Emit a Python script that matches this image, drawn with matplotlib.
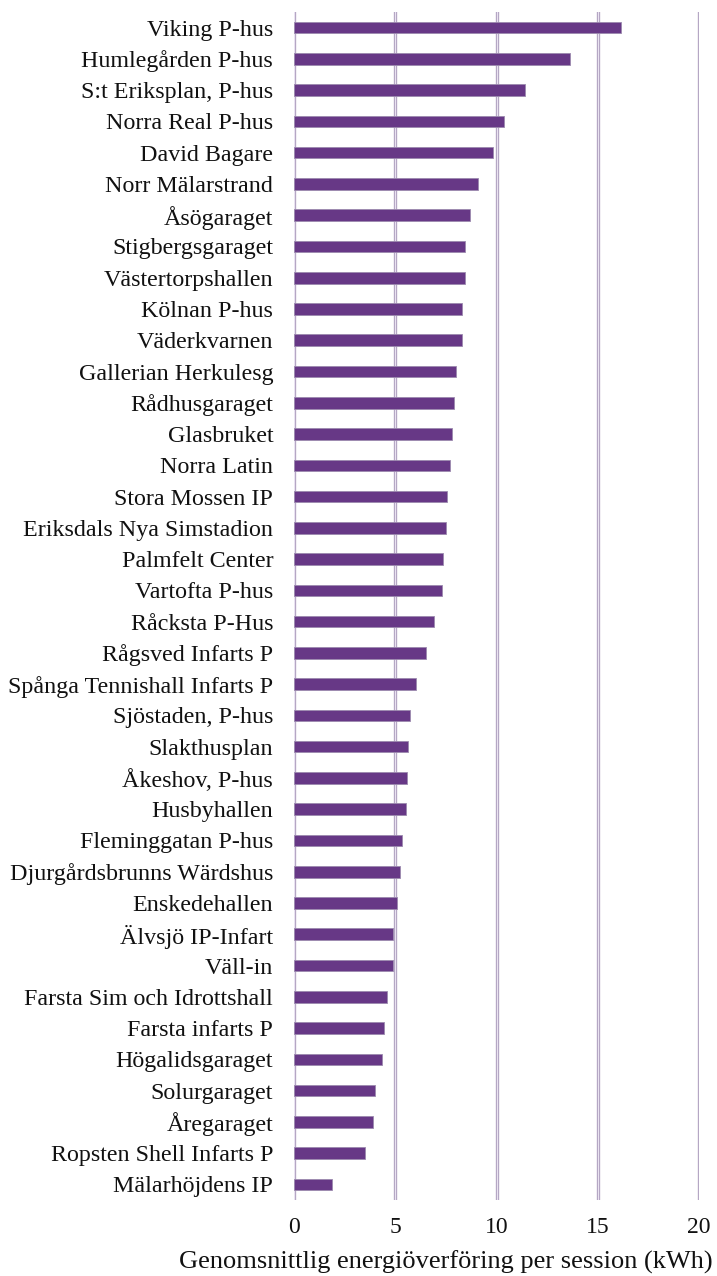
import matplotlib
matplotlib.use("Agg")
import matplotlib.pyplot as plt

categories = [
    "Viking P-hus", "Humlegården P-hus", "S:t Eriksplan, P-hus", "Norra Real P-hus",
    "David Bagare", "Norr Mälarstrand", "Åsögaraget", "Stigbergsgaraget",
    "Västertorpshallen", "Kölnan P-hus", "Väderkvarnen", "Gallerian Herkulesg",
    "Rådhusgaraget", "Glasbruket", "Norra Latin", "Stora Mossen IP",
    "Eriksdals Nya Simstadion", "Palmfelt Center", "Vartofta P-hus", "Råcksta P-Hus",
    "Rågsved Infarts P", "Spånga Tennishall Infarts P", "Sjöstaden, P-hus", "Slakthusplan",
    "Åkeshov, P-hus", "Husbyhallen", "Fleminggatan P-hus", "Djurgårdsbrunns Wärdshus",
    "Enskedehallen", "Älvsjö IP-Infart", "Väll-in", "Farsta Sim och Idrottshall",
    "Farsta infarts P", "Högalidsgaraget", "Solurgaraget", "Åregaraget",
    "Ropsten Shell Infarts P", "Mälarhöjdens IP",
]
values = [
    16.17, 13.64, 11.42, 10.36,
    9.84, 9.08, 8.70, 8.45,
    8.45, 8.32, 8.32, 8.01,
    7.88, 7.81, 7.70, 7.55,
    7.50, 7.37, 7.30, 6.92,
    6.54, 6.03, 5.72, 5.65,
    5.59, 5.52, 5.34, 5.23,
    5.10, 4.90, 4.90, 4.58,
    4.45, 4.34, 4.01, 3.89,
    3.50, 1.87,
]
x_ticks = [0, 5, 10, 15, 20]
x_label = "Genomsnittlig energiöverföring per session (kWh)"

plt.rcParams['font.family'] = ['Liberation Serif', 'DejaVu Serif']

fig = plt.figure(figsize=(7.17, 12.76), dpi=100)
ax = fig.add_axes([294/717, 1 - 1200/1276, 405/717, 1188/1276])

ypos = list(range(len(categories)))
ax.barh(ypos, values, height=0.37, color='#673886', edgecolor='#9c8aae',
        linewidth=0.6, zorder=3)
ax.set_ylim(len(categories) - 0.5, -0.5)
ax.set_xlim(0, 20)
ax.set_yticks(ypos)
ax.set_yticklabels(categories, fontsize=17.3, color='#111111')
ax.set_xticks(x_ticks)
ax.set_xticklabels([str(t) for t in x_ticks], fontsize=17, color='#111111')
ax.tick_params(axis='y', length=0, pad=15)
ax.tick_params(axis='x', length=0, pad=12)

for t in x_ticks:
    ax.axvline(t, color='#b2a4c2', linewidth=2.4, zorder=1)
    ax.axvline(t, color='#e9e2f1', linewidth=0.8, zorder=2)

for s in ax.spines.values():
    s.set_visible(False)

ax.set_xlabel(x_label, fontsize=19, color='#111111', va='center')
ax.xaxis.set_label_coords((446 - 294) / 405, (1200 - 1262) / 1188)

fig.savefig("out.png", dpi=100)
